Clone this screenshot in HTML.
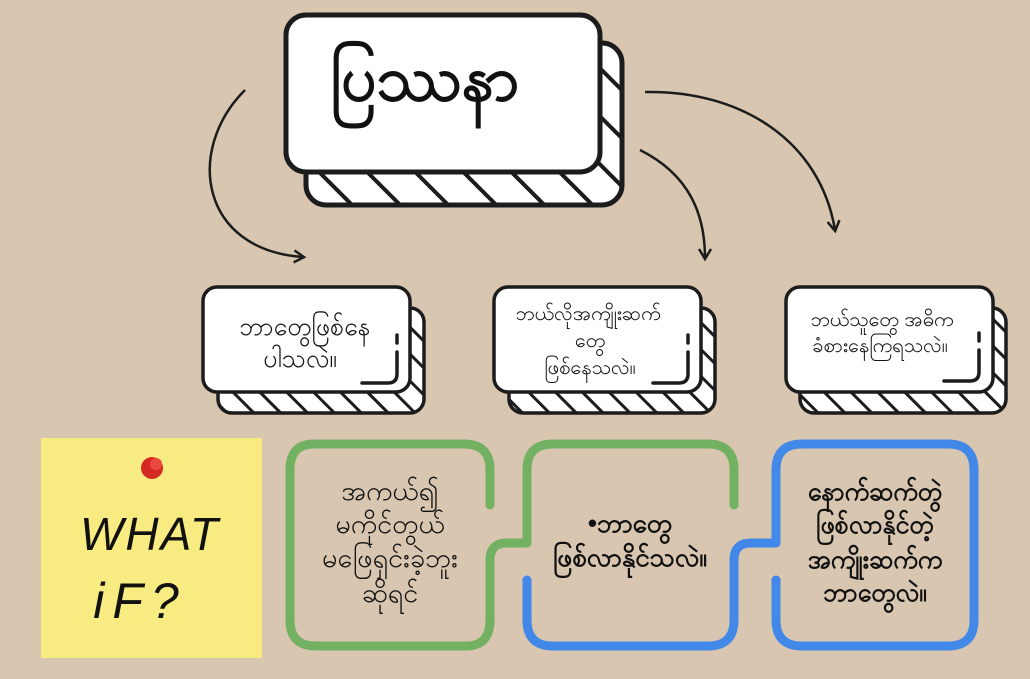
<!DOCTYPE html>
<html><head><meta charset="utf-8"><style>
body{margin:0;background:#d8c6b1;}
svg{display:block}
text{font-family:"Liberation Sans","Noto Sans CJK SC",sans-serif;fill:#111;text-anchor:middle}
</style></head><body>
<svg width="1030" height="679" viewBox="0 0 1030 679" xmlns="http://www.w3.org/2000/svg">
<defs>
<pattern id="st1" patternUnits="userSpaceOnUse" width="34" height="34" patternTransform="rotate(-45)">
<rect width="34" height="34" fill="#fff"/><rect x="0" y="0" width="4" height="34" fill="#1c1c1c"/></pattern>
<pattern id="st2" patternUnits="userSpaceOnUse" width="19" height="19" patternTransform="rotate(-45)">
<rect width="19" height="19" fill="#fff"/><rect x="0" y="0" width="3" height="19" fill="#1c1c1c"/></pattern>
<marker id="ah" markerWidth="14" markerHeight="14" refX="10" refY="7" orient="auto" markerUnits="userSpaceOnUse">
<path d="M1,1 L11,7 L1,13" fill="none" stroke="#1c1c1c" stroke-width="2.5"/></marker>
</defs>
<rect width="1030" height="679" fill="#d8c6b1"/>

<rect x="306" y="43" width="316" height="162" rx="20" fill="url(#st1)" stroke="#1c1c1c" stroke-width="5"/>
<rect x="286" y="15" width="314" height="157" rx="20" fill="#fff" stroke="#1c1c1c" stroke-width="5"/>
<text x="425" y="100" font-size="62" font-weight="bold">ပြဿနာ</text>

<g fill="none" stroke="#1c1c1c" stroke-width="2.5">
<path d="M245,90 C185,150 200,250 303,257" marker-end="url(#ah)"/>
<path d="M640,150 C690,175 705,215 705,258" marker-end="url(#ah)"/>
<path d="M645,92 C740,90 820,140 835,230" marker-end="url(#ah)"/>
</g>

<g stroke="#1c1c1c" stroke-width="3.5">
<rect x="218" y="308" width="206" height="105" rx="14" fill="url(#st2)"/>
<rect x="203" y="287" width="207" height="105" rx="14" fill="#fff"/>
<rect x="509" y="308" width="206" height="105" rx="14" fill="url(#st2)"/>
<rect x="494" y="287" width="207" height="105" rx="14" fill="#fff"/>
<rect x="800" y="308" width="206" height="105" rx="14" fill="url(#st2)"/>
<rect x="786" y="287" width="207" height="105" rx="14" fill="#fff"/>
</g>
<g fill="none" stroke="#1c1c1c" stroke-width="3.5" stroke-linecap="round">
<path d="M397,335 v8 M397,352 v22 q0,9 -9,9 h-26"/>
<path d="M688,335 v8 M688,352 v22 q0,9 -9,9 h-26"/>
<path d="M979,333 v8 M979,350 v22 q0,9 -9,9 h-26"/>
</g>
<text x="305" y="335" font-size="25">ဘာတွေဖြစ်နေ</text>
<text x="300" y="367" font-size="25">ပါသလဲ။</text>
<text x="588" y="320" font-size="20">ဘယ်လိုအကျိုးဆက်</text>
<text x="590" y="347" font-size="20">တွေ</text>
<text x="590" y="374" font-size="20">ဖြစ်နေသလဲ။</text>
<text x="882" y="326" font-size="20">ဘယ်သူတွေ အဓိက</text>
<text x="880" y="352" font-size="20">ခံစားနေကြရသလဲ။</text>

<rect x="41" y="438" width="221" height="220" fill="#f8eb82"/>
<circle cx="152" cy="468" r="11" fill="#d42a22"/>
<circle cx="156" cy="464" r="6" fill="#e94a40"/>
<text x="150" y="550" font-size="46" font-style="italic" style="letter-spacing:2px">WHAT</text>
<text x="140" y="618" font-size="50" font-style="italic" style="letter-spacing:8px">iF?</text>

<g fill="none" stroke-width="9" stroke-linecap="round" stroke-linejoin="round">
<path d="M490,505 V470 Q490,444 464,444 H314 Q290,444 290,470 V620 Q290,646 316,646 H466 Q490,646 490,620 V560 Q490,543 507,543 H527 V470 Q527,444 553,444 H708 Q734,444 734,470 V505" stroke="#72b062"/>
<path d="M527,580 V620 Q527,646 553,646 H708 Q734,646 734,620 V560 Q734,543 751,543 H776 V470 Q776,444 802,444 H948 Q974,444 974,470 V620 Q974,646 948,646 H802 Q776,646 776,620 V580" stroke="#4188e8"/>
</g>
<text x="390" y="500" font-size="27">အကယ်၍</text>
<text x="390" y="533" font-size="27">မကိုင်တွယ်</text>
<text x="390" y="567" font-size="27">မဖြေရှင်းခဲ့ဘူး</text>
<text x="390" y="602" font-size="27">ဆိုရင်</text>
<text x="630" y="532" font-size="26" font-weight="bold">•ဘာတွေ</text>
<text x="630" y="566" font-size="26" font-weight="bold">ဖြစ်လာနိုင်သလဲ။</text>
<text x="875" y="500" font-size="25" font-weight="bold">နောက်ဆက်တွဲ</text>
<text x="875" y="533" font-size="25" font-weight="bold">ဖြစ်လာနိုင်တဲ့</text>
<text x="875" y="568" font-size="25" font-weight="bold">အကျိုးဆက်က</text>
<text x="875" y="601" font-size="25" font-weight="bold">ဘာတွေလဲ။</text>
</svg>
</body></html>
